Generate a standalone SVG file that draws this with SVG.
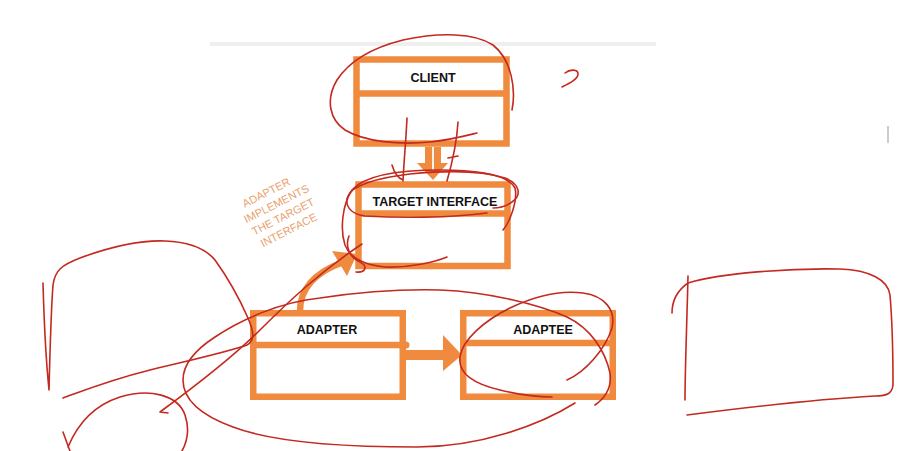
<svg xmlns="http://www.w3.org/2000/svg" width="918" height="451" viewBox="0 0 918 451">
<style>
.box{fill:#fff;stroke:#ef8a3e;stroke-width:6.5}
.div{stroke:#ef8a3e;stroke-width:6.5}
.lbl{font-family:"Liberation Sans",Arial,sans-serif;font-weight:bold;font-size:12.5px;fill:#111;text-anchor:middle}
.note{font-family:"Liberation Sans",Arial,sans-serif;font-size:11px;fill:#e9a06e;text-anchor:middle}
.ink{fill:none;stroke:#c4291f;stroke-width:1.6;stroke-linecap:round;stroke-linejoin:round}
.conn{fill:#ef8a3e}
</style>
<rect width="918" height="451" fill="#fff"/>
<rect x="210" y="42" width="446" height="4" fill="#efefef"/>
<line x1="888" y1="126" x2="888" y2="143" stroke="#bbb" stroke-width="1.5"/>

<g id="client">
<rect class="box" x="356.5" y="59.5" width="150" height="84"/>
<line class="div" x1="356.5" y1="93.5" x2="506.5" y2="93.5"/>
<text class="lbl" x="433" y="82">CLIENT</text>
</g>
<g id="target-interface">
<rect class="box" x="358.5" y="184.5" width="149" height="81.5"/>
<line class="div" x1="358.5" y1="213.5" x2="507.5" y2="213.5"/>
<text class="lbl" x="435" y="206">TARGET INTERFACE</text>
</g>
<g id="adapter">
<rect class="box" x="253.25" y="313.25" width="149.5" height="83.5"/>
<line class="div" x1="253.25" y1="345" x2="402.75" y2="345"/>
<text class="lbl" x="327" y="333.5">ADAPTER</text>
</g>
<g id="adaptee">
<rect class="box" x="463.25" y="313.25" width="149.5" height="83.5"/>
<line class="div" x1="463.25" y1="343" x2="612.75" y2="343"/>
<text class="lbl" x="543" y="333.5">ADAPTEE</text>
</g>

<g id="connectors">
<rect class="conn" x="425" y="147" width="16" height="19"/>
<polygon class="conn" points="417,163 448,163 433,180"/>
<line x1="433" y1="147" x2="433" y2="170" stroke="#fff" stroke-width="1.8"/>
<path d="M300,311 C300,290 314,273 341,263" fill="none" stroke="#ef8a3e" stroke-width="6.5"/>
<polygon class="conn" points="332,251 357,254 347,276"/>
<circle class="conn" cx="406" cy="345" r="3.5"/>
<rect class="conn" x="404" y="350" width="42" height="10"/>
<polygon class="conn" points="443,335 462,355 443,371"/>
</g>

<g id="note" class="note" transform="translate(268,196) rotate(-27)">
<text x="0" y="0">ADAPTER</text>
<text x="4" y="14.5">IMPLEMENTS</text>
<text x="4" y="29">THE TARGET</text>
<text x="3" y="43.5">INTERFACE</text>
</g>

<g id="scribbles" class="ink">
<path d="M43,283 C44,320 46,360 49,390 C50,350 51,310 53,285 C55,270 62,265 80,258 C110,247 140,240 165,241 C190,242 205,248 215,260 C228,278 240,300 248,318 C253,330 256,340 247,345 C235,350 200,358 150,370 C110,380 85,390 63,398"/>
<path d="M168,413 L160,412 C190,390 230,360 260,330 C290,300 320,272 362,244"/>
<path d="M349,236 C345,246 349,257 360,262 C368,266 366,273 356,272"/>
<path d="M63,432 C66,440 68,446 70,451 M68,447 C78,423 95,405 120,397 C150,388 178,395 185,415 C190,430 187,442 182,451"/>
<path d="M575,403 C540,425 480,447 417,447 C360,447 280,445 233,427 C200,415 183,400 183,380 C183,365 195,350 215,337 C240,320 280,302 320,298 C360,292 400,289 440,290 C490,292 540,305 567,317 C590,328 605,350 610,373 C612,388 605,398 595,405"/>
<path d="M567,380 C585,372 605,350 612,328 C616,310 605,296 583,293 C560,290 535,296 510,308 C485,320 462,340 460,357 C458,372 470,383 500,390 C520,395 540,397 552,397"/>
<path d="M512,110 C516,90 512,60 493,45 C475,33 440,32 403,40 C375,47 350,60 337,80 C325,100 330,120 345,130 C365,142 400,145 430,142 C450,140 465,136 477,133"/>
<path d="M407,118 C406,140 404,160 403,181 M392,165 C394,172 398,178 403,180"/>
<path d="M458,122 C457,140 453,160 447,181 M448,158 L458,156"/>
<path d="M503,230 C510,222 518,200 515,188 C508,175 480,170 440,170 C400,170 365,175 352,190 C342,205 340,230 345,245 C350,258 365,265 385,267 C410,268 435,262 447,257"/>
<path d="M487,213 C450,218 400,218 365,216 C350,214 344,205 348,196 C352,186 375,178 410,174 C440,171 480,170 505,178 C520,184 522,195 512,202 C505,207 498,208 493,208"/>
<path d="M672,313 C672,300 678,290 688,283 C720,273 790,268 840,269 C870,270 888,280 890,295 C893,330 893,370 893,385 C892,393 888,396 875,396 C840,398 780,403 687,415"/>
<path d="M688,276 C687,320 685,370 685,400"/>
<path d="M562,87 C570,83 578,79 578,74 C578,69 570,69 565,73"/>
</g>
</svg>
